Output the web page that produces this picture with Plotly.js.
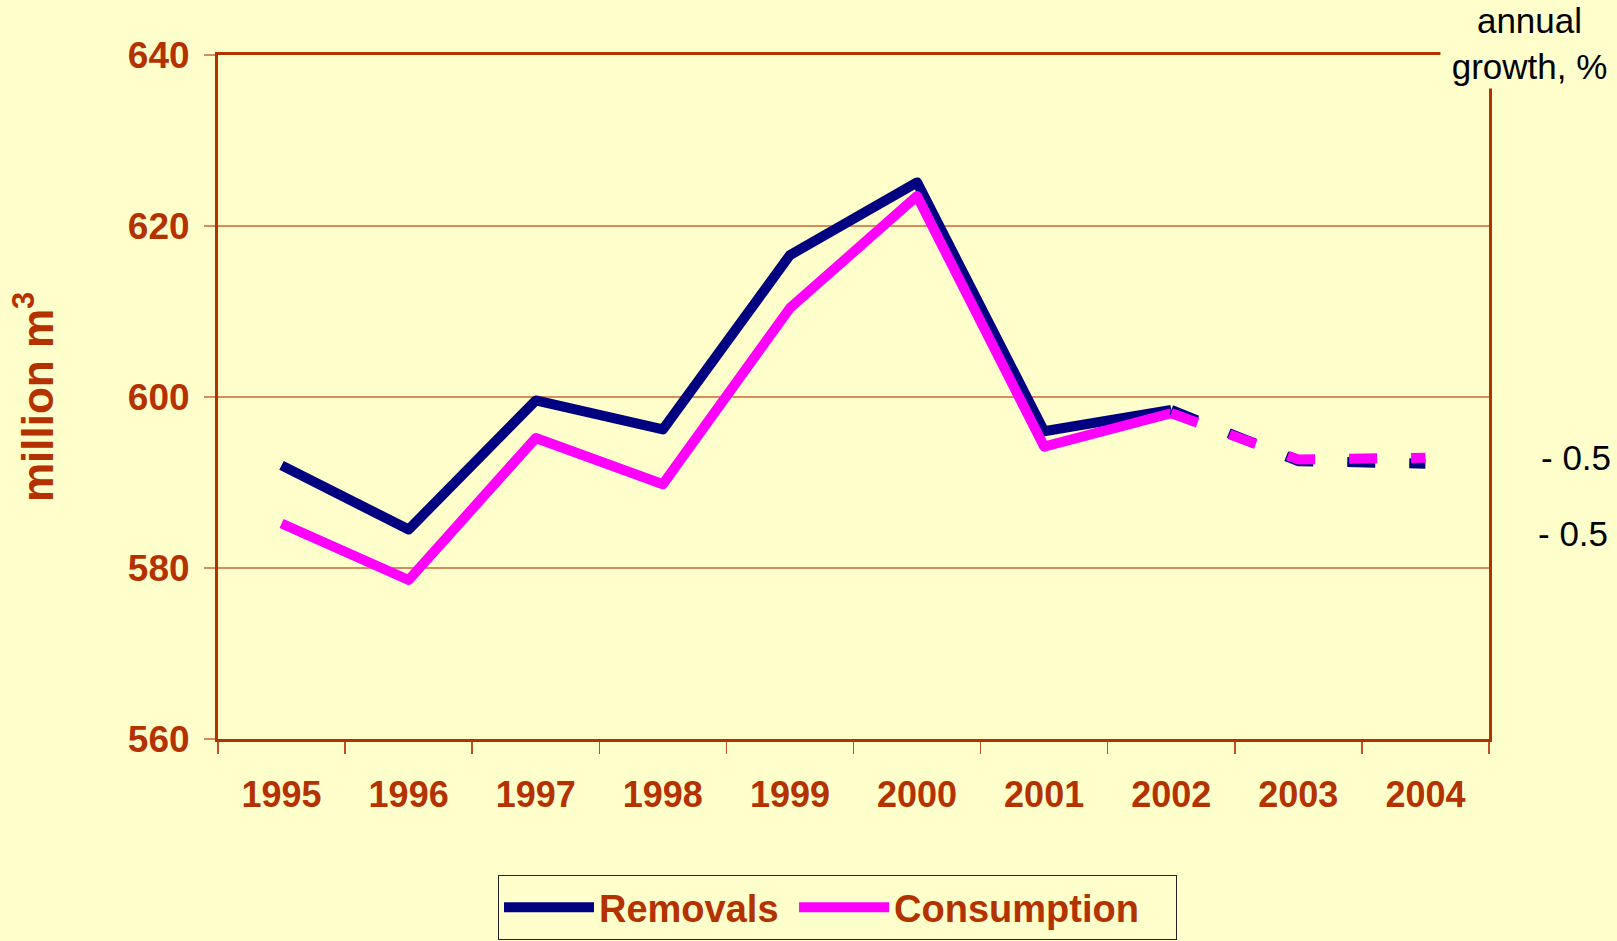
<!DOCTYPE html>
<html>
<head>
<meta charset="utf-8">
<script src="https://cdn.plot.ly/plotly-3.0.1.min.js"></script>
<style>
  html, body { margin: 0; padding: 0; background: #FFFFCC; }
  #chart { width: 1617px; height: 941px; }
  .scatterlayer .js-line { stroke-linejoin: round !important; }
</style>
</head>
<body>
<div id="chart"></div>
<script>
// ---- data ----
const years = ['1995', '1996', '1997', '1998', '1999', '2000', '2001', '2002', '2003', '2004'];
const removals = [592.0, 584.5, 599.6, 596.2, 616.6, 625.1, 596.0, 598.5, 592.5, 592.2];
const consumption = [585.2, 578.6, 595.2, 589.8, 610.4, 623.5, 594.2, 598.1, 592.7, 592.9];
const seriesNames = ['Removals', 'Consumption'];
const forecastFrom = 7; // index of 2002: dashed from here on
const growthLabels = ['- 0.5', '- 0.5'];
const growthValues = [592.9, 584.0]; // vertical positions (million m3 scale) of growth labels
const yTicks = [560, 580, 600, 620, 640];

const axisColor = '#B33200';
const gridColor = '#D98C5A';
const bg = '#FFFFCC';
const navy = '#000080';
const magenta = '#FF00FF';
const fontFam = 'Liberation Sans, Arial, sans-serif';
const NB = '\u00a0';

const solidX = years.slice(0, forecastFrom + 1);
const dashX = years.slice(forecastFrom);

const traces = [
  { x: solidX, y: removals.slice(0, forecastFrom + 1), name: seriesNames[0] + NB, type: 'scatter', mode: 'lines',
    line: { color: navy, width: 10 } },
  { x: solidX, y: consumption.slice(0, forecastFrom + 1), name: seriesNames[1] + NB + NB + NB, type: 'scatter', mode: 'lines',
    line: { color: magenta, width: 10 } },
  { x: dashX, y: removals.slice(forecastFrom), name: seriesNames[0] + ' (forecast)', type: 'scatter', mode: 'lines',
    showlegend: false, line: { color: navy, width: 10, dash: '28px,34px' } },
  { x: dashX, y: consumption.slice(forecastFrom), name: seriesNames[1] + ' (forecast)', type: 'scatter', mode: 'lines',
    showlegend: false, line: { color: magenta, width: 10, dash: '28px,34px' } }
];

const annotations = [
  { xref: 'paper', yref: 'paper', x: 0.9615, y: 1.0804, xanchor: 'left', yanchor: 'top',
    width: 177, height: 87, bgcolor: bg, borderpad: 0, showarrow: false, valign: 'top',
    text: 'annual<br>growth, %', align: 'center',
    font: { family: fontFam, size: 35, color: '#000000' } }
];
growthLabels.forEach((t, i) => {
  annotations.push({ xref: 'paper', yref: 'y', x: i === 0 ? 1.0976 : 1.0952, y: growthValues[i],
    xanchor: 'right', yanchor: 'middle', showarrow: false, text: t,
    font: { family: fontFam, size: 35, color: '#000000' } });
});

const layout = {
  width: 1617, height: 941,
  paper_bgcolor: bg, plot_bgcolor: bg,
  margin: { l: 218, r: 128, t: 55, b: 202, pad: 0, autoexpand: false },
  font: { family: fontFam, color: axisColor },
  showlegend: true,
  legend: {
    orientation: 'h', x: 0.2203, y: -0.1988, xanchor: 'left', yanchor: 'top',
    bgcolor: bg, bordercolor: '#222222', borderwidth: 1,
    font: { family: fontFam, size: 38, color: axisColor, weight: 'bold' },
    itemwidth: 90
  },
  xaxis: {
    type: 'category', range: [-0.5, 9.5], fixedrange: true, automargin: false,
    showline: true, linecolor: axisColor, linewidth: 3, mirror: true,
    showgrid: false, zeroline: false,
    ticks: 'outside', tickson: 'boundaries', ticklen: 12, tickwidth: 1.5, tickcolor: '#C0502A',
    tickfont: { family: fontFam, size: 36, color: axisColor, weight: 'bold' },
    ticklabelstandoff: 22
  },
  yaxis: {
    range: [560, 640], tickvals: yTicks, ticktext: yTicks.map(String), fixedrange: true, automargin: false,
    showline: true, linecolor: axisColor, linewidth: 3, mirror: true,
    showgrid: true, gridcolor: gridColor, gridwidth: 1.5, zeroline: false,
    ticks: 'outside', ticklen: 11, tickwidth: 1.5, tickcolor: gridColor,
    tickfont: { size: 37, color: axisColor, weight: 'bold' },
    ticklabelstandoff: 7,
    title: { text: 'million m<sup>3</sup>', standoff: 61,
      font: { size: 44, color: axisColor, weight: 'bold' } }
  },
  annotations: annotations
};

Plotly.newPlot('chart', traces, layout, { displayModeBar: false, staticPlot: true });
</script>
</body>
</html>
